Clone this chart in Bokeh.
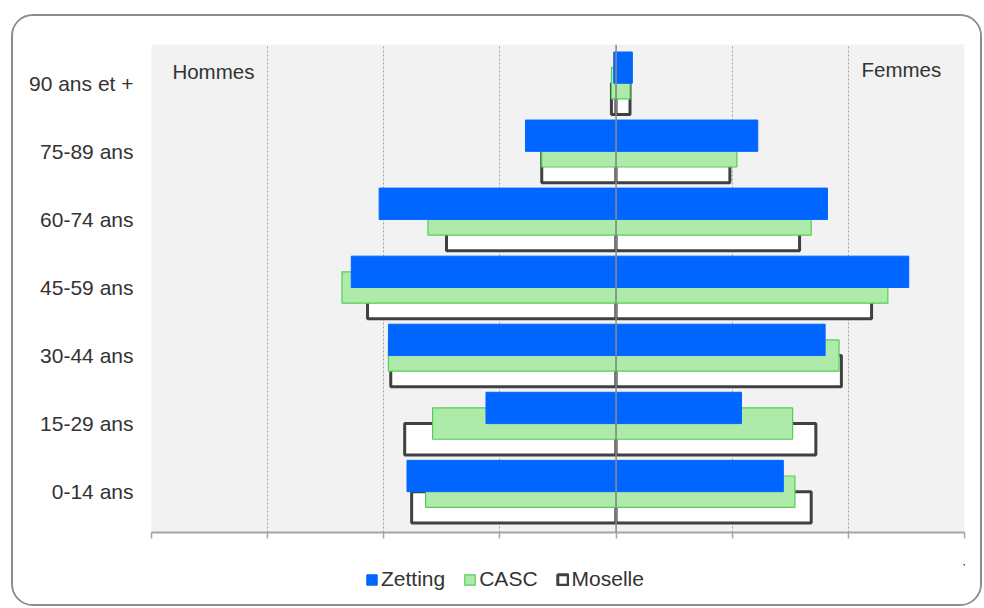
from bokeh.plotting import figure
from bokeh.layouts import column
from bokeh.models import Range1d, FixedTicker, Span, Label, Legend, LegendItem, BoxAnnotation
from bokeh.embed import file_html
from bokeh.resources import INLINE

categories = ["0-14 ans", "15-29 ans", "30-44 ans", "45-59 ans", "60-74 ans", "75-89 ans", "90 ans et +"]
zetting_hommes = [9.0, 5.6, 9.8, 11.4, 10.2, 3.9, 0.1]
zetting_femmes = [7.2, 5.4, 9.0, 12.6, 9.1, 6.1, 0.7]
casc_hommes = [8.2, 7.9, 9.8, 11.8, 8.1, 3.2, 0.2]
casc_femmes = [7.7, 7.6, 9.6, 11.7, 8.4, 5.2, 0.6]
moselle_hommes = [8.8, 9.1, 9.7, 10.7, 7.3, 3.2, 0.2]
moselle_femmes = [8.4, 8.6, 9.7, 11.0, 7.9, 4.9, 0.6]
x_ticks = [-20, -15, -10, -5, 0, 5, 10, 15]

FONT = "Liberation Sans"
TXT = "#333333"

p = figure(width=967, height=548, output_backend="svg", toolbar_location=None,
           x_range=Range1d(-20, 15), y_range=Range1d(-0.6, 6.57),
           min_border_left=138, min_border_right=16, min_border_top=28, min_border_bottom=32)
p.background_fill_color = "#f2f2f2"
p.border_fill_color = "white"
p.outline_line_color = None

idx = list(range(len(categories)))
bar_h = 0.46

styles = {
    "Moselle": dict(fill_color="white", line_color="#404040", line_width=3),
    "CASC": dict(fill_color="#aeeaaa", line_color="#52d052", line_width=1.2),
    "Zetting": dict(fill_color="#0066ff", line_color="#0066ff", line_width=1),
}
series = [
    ("Moselle", moselle_hommes, moselle_femmes, -0.23),
    ("CASC", casc_hommes, casc_femmes, 0.0),
    ("Zetting", zetting_hommes, zetting_femmes, 0.23),
]
for name, hom, fem, off in series:
    ys = [i + off for i in idx]
    p.hbar(y=ys, left=[-v for v in hom], right=0, height=bar_h, **styles[name])
    p.hbar(y=ys, left=0, right=fem, height=bar_h, **styles[name])

p.add_layout(Span(location=0, dimension="height", line_color="#8c8c8c", line_width=1.5, level="overlay"))

p.xaxis.ticker = FixedTicker(ticks=x_ticks)
p.xaxis.major_label_overrides = {t: "" for t in x_ticks}
p.xaxis.axis_line_color = "#a6a6a6"
p.xaxis.axis_line_width = 2
p.xaxis.major_tick_line_color = "#a6a6a6"
p.xaxis.major_tick_line_width = 1.5
p.xaxis.major_tick_in = 0
p.xaxis.major_tick_out = 6
p.xaxis.minor_tick_line_color = None
p.xaxis.major_label_text_font_size = "1px"

p.xgrid.ticker = FixedTicker(ticks=x_ticks)
p.xgrid.grid_line_color = "#a0a0a0"
p.xgrid.grid_line_dash = "2 2"
p.xgrid.grid_line_width = 1
p.ygrid.visible = False

p.yaxis.ticker = FixedTicker(ticks=idx)
p.yaxis.major_label_overrides = {i: c for i, c in zip(idx, categories)}
p.yaxis.axis_line_color = None
p.yaxis.major_tick_line_color = None
p.yaxis.minor_tick_line_color = None
p.yaxis.major_label_standoff = 12
p.yaxis.major_label_text_font = FONT
p.yaxis.major_label_text_font_size = "21px"
p.yaxis.major_label_text_color = TXT

p.add_layout(Label(x=-19.1, y=6, y_offset=12, text="Hommes", text_align="left", text_baseline="middle",
                   text_font=FONT, text_font_size="20.5px", text_color=TXT))
p.add_layout(Label(x=14.0, y=6, y_offset=14, text="Femmes", text_align="right", text_baseline="middle",
                   text_font=FONT, text_font_size="20.5px", text_color=TXT))

# legend strip (same data, kept out of its view and masked; only the legend is shown)
lf = figure(width=967, height=40, output_backend="svg", toolbar_location=None,
            x_range=Range1d(-100, -99), y_range=Range1d(-50, -49),
            min_border=0, min_border_left=0, min_border_right=0, min_border_top=0, min_border_bottom=0)
lf.axis.visible = False
lf.grid.visible = False
lf.outline_line_color = None
lf.border_fill_color = "white"
lf.background_fill_color = "white"
leg_items = {}
for name, hom, fem, off in series:
    ys = [i + off for i in idx]
    r = lf.hbar(y=ys, left=0, right=fem, height=bar_h, **styles[name])
    leg_items[name] = LegendItem(label=name, renderers=[r])
lf.add_layout(BoxAnnotation(fill_color="white", fill_alpha=1, line_color=None, level="guide"))
legend = Legend(items=[leg_items[n] for n in ["Zetting", "CASC", "Moselle"]],
                orientation="horizontal", location=(214, 13), padding=0, margin=0,
                spacing=18, glyph_width=13, glyph_height=13, label_standoff=3,
                label_text_font=FONT, label_text_font_size="21px", label_text_color=TXT,
                border_line_color=None, background_fill_alpha=0)
lf.add_layout(legend, "center")

layout = column(p, lf, spacing=0,
                styles={"border": "2px solid #8c8c8c", "border-radius": "22px",
                        "margin-left": "11px", "margin-top": "14px", "overflow": "hidden"})

open("out.html", "w").write(file_html(layout, INLINE))
